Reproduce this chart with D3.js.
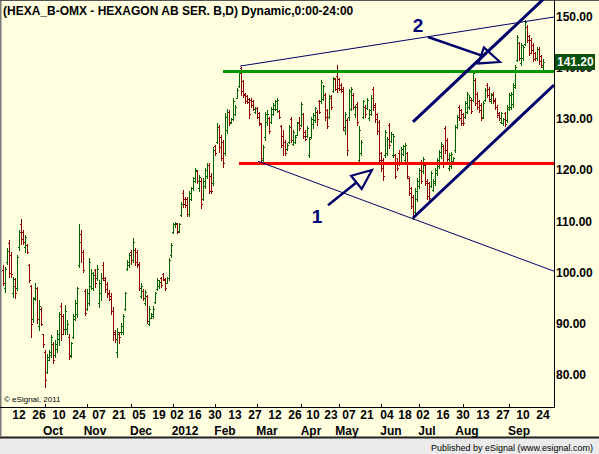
<!DOCTYPE html>
<html>
<head>
<meta charset="utf-8">
<script src="https://cdn.jsdelivr.net/npm/d3@7"></script>
<style>
  html, body { margin: 0; padding: 0; background: #fff; }
  svg { display: block; }
  text { font-family: "Liberation Sans", Arial, sans-serif; }
</style>
</head>
<body>
<svg id="drawing_region"></svg>
<script>
// ---- data ----
const title = "(HEXA_B-OMX - HEXAGON AB SER. B,D) Dynamic,0:00-24:00";
const firstDay = "2011-08-31";
const lastDay = "2012-09-24";
const holidays = ["2011-12-26", "2012-01-06", "2012-04-06", "2012-04-09",
                  "2012-05-01", "2012-05-17", "2012-06-06", "2012-06-22"];

const opens = [
  100.5, 97.0, 102.0, 105.8, 103.5, 96.0, 97.5, 97.0, 105.0, 109.5,
  108.0, 105.0, 105.5, 101.5, 97.5, 91.0, 95.0, 97.0, 89.5, 93.0,
  88.0, 84.5, 80.5, 83.0, 84.0, 86.0, 84.0, 85.0, 87.0, 93.5,
  91.5, 89.0, 89.0, 87.5, 84.0, 87.5, 91.0, 92.0, 101.5, 107.5,
  104.0, 96.5, 93.0, 94.0, 97.5, 97.0, 100.5, 99.0, 94.0, 96.0,
  101.5, 98.5, 97.8, 96.0, 95.5, 92.5, 88.5, 84.5, 88.0, 88.5,
  88.5, 93.0, 100.8, 101.5, 104.0, 102.5, 104.5, 104.0, 101.5, 95.5,
  96.5, 94.0, 95.5, 90.0, 91.2, 91.5, 94.2, 96.8, 97.5, 99.0,
  99.8, 98.5, 98.0, 99.0, 103.5, 108.0, 109.5, 109.5, 108.2, 111.2,
  115.5, 114.5, 114.5, 111.5, 114.5, 116.5, 118.0, 119.8, 116.5, 118.0,
  114.5, 117.0, 119.0, 121.0, 119.0, 117.5, 124.8, 125.5, 128.5, 126.5,
  125.5, 123.5, 128.0, 131.5, 129.3, 130.0, 131.0, 134.2, 136.5, 140.0,
  137.5, 135.0, 134.5, 134.0, 133.8, 133.5, 131.5, 132.3, 131.3, 129.0,
  122.0, 126.5, 129.5, 130.3, 129.5, 131.0, 132.0, 132.0, 131.7, 128.7,
  126.8, 125.5, 124.2, 125.5, 130.0, 125.2, 125.5, 127.0, 129.5, 128.8,
  131.0, 127.5, 126.8, 123.0, 126.5, 129.0, 129.8, 131.5, 133.5, 133.5,
  134.0, 134.8, 131.8, 130.5, 134.5, 135.6, 137.8, 138.5, 137.8, 136.8,
  136.0, 128.0, 129.8, 130.5, 132.0, 134.8, 131.0, 133.0, 122.0, 123.5,
  130.5, 132.5, 132.2, 130.2, 131.0, 136.0, 132.8, 131.0, 129.5, 123.5,
  122.0, 123.0, 123.5, 128.8, 125.8, 123.0, 123.0, 121.5, 123.5, 121.5,
  123.2, 122.0, 123.5, 118.5, 116.5, 114.8, 111.8, 114.5, 117.0, 121.5,
  119.8, 121.0, 118.0, 117.5, 117.0, 116.2, 117.5, 119.5, 120.8, 122.8,
  124.8, 128.2, 126.0, 120.5, 120.8, 121.9, 124.0, 128.5, 132.5, 131.8,
  131.0, 130.5, 131.5, 132.5, 133.8, 133.8, 137.6, 135.0, 133.5, 132.8,
  130.5, 133.8, 136.7, 136.0, 133.5, 135.0, 133.8, 132.5, 131.2, 129.5,
  129.2, 131.2, 129.8, 132.0, 132.5, 133.0, 136.3, 141.5, 145.0, 141.0,
  142.0, 144.8, 148.0, 146.2, 145.5, 144.5, 143.0, 142.0, 143.8, 142.3,
  140.2
];
const highs = [
  101.5, 101.2, 104.8, 106.4, 104.1, 99.2, 98.9, 103.4, 108.3, 110.5,
  108.3, 107.4, 105.7, 101.8, 97.6, 95.3, 97.9, 97.3, 94.6, 93.3,
  88.1, 84.9, 84.2, 84.9, 87.8, 86.5, 86.8, 88.8, 92.4, 94.0,
  92.0, 93.7, 90.7, 88.1, 86.5, 92.0, 94.6, 97.3, 109.6, 108.3,
  104.4, 96.9, 96.9, 102.8, 100.8, 100.2, 100.8, 101.5, 98.6, 99.9,
  102.1, 99.2, 98.2, 96.6, 96.0, 93.3, 88.8, 89.1, 88.5, 90.1,
  92.0, 96.3, 102.5, 103.8, 104.4, 106.7, 104.8, 104.4, 102.1, 97.9,
  96.9, 96.6, 95.6, 93.4, 92.1, 93.4, 96.3, 98.9, 98.6, 99.2,
  99.9, 98.9, 99.2, 102.8, 105.8, 109.7, 110.0, 109.7, 109.7, 113.9,
  116.2, 114.9, 114.9, 115.9, 116.8, 118.8, 120.4, 120.1, 119.1, 118.5,
  118.5, 120.4, 121.4, 121.4, 119.4, 124.6, 125.0, 129.2, 128.9, 126.9,
  126.0, 131.2, 132.1, 131.8, 130.2, 134.1, 132.8, 136.1, 139.3, 140.3,
  137.7, 135.1, 134.8, 134.1, 134.1, 133.8, 132.5, 132.5, 131.5, 129.2,
  125.0, 131.5, 131.8, 130.5, 132.5, 133.1, 133.8, 134.1, 131.8, 128.9,
  127.9, 125.9, 125.3, 128.9, 130.5, 127.9, 126.9, 129.5, 130.5, 133.4,
  131.2, 127.9, 128.6, 126.6, 130.5, 131.2, 132.5, 131.8, 133.8, 137.7,
  136.7, 135.1, 132.1, 134.7, 134.7, 138.3, 138.0, 140.7, 138.0, 137.0,
  136.4, 131.5, 130.2, 136.0, 136.4, 135.1, 132.8, 133.4, 128.6, 125.9,
  133.8, 132.8, 134.1, 132.1, 134.7, 136.4, 133.1, 131.2, 129.9, 123.7,
  122.4, 127.9, 126.6, 129.2, 127.6, 127.2, 123.3, 122.4, 124.0, 124.6,
  125.0, 125.3, 123.7, 118.8, 116.8, 115.2, 116.5, 118.5, 120.4, 122.0,
  122.7, 121.4, 118.4, 117.8, 119.8, 118.4, 120.4, 122.4, 124.0, 125.6,
  125.0, 128.6, 126.3, 123.4, 123.7, 122.7, 128.9, 130.8, 132.8, 132.1,
  131.2, 133.5, 135.4, 134.7, 134.1, 139.3, 138.0, 135.4, 133.8, 133.1,
  133.5, 136.1, 137.0, 136.4, 135.1, 135.4, 134.1, 132.8, 131.5, 131.5,
  130.2, 131.5, 132.8, 135.1, 135.4, 137.0, 140.6, 146.5, 145.2, 144.9,
  144.5, 149.4, 148.4, 146.5, 145.8, 144.9, 143.2, 144.2, 144.2, 142.6,
  141.8
];
const lows = [
  97.6, 96.3, 101.8, 99.2, 99.2, 95.3, 95.0, 96.6, 104.4, 105.7,
  105.7, 104.1, 103.8, 98.2, 87.5, 90.4, 94.6, 90.1, 88.8, 89.8,
  85.5, 77.7, 80.3, 82.9, 83.6, 82.3, 83.6, 84.5, 85.8, 86.8,
  88.1, 88.1, 88.1, 83.2, 83.6, 87.2, 90.7, 91.4, 101.2, 102.1,
  100.2, 91.7, 92.7, 93.7, 96.9, 96.6, 97.3, 98.6, 93.3, 94.6,
  98.6, 96.3, 95.3, 94.6, 92.0, 86.8, 86.5, 83.6, 86.2, 88.1,
  88.1, 92.7, 100.5, 101.2, 101.8, 102.1, 101.5, 101.2, 96.6, 95.0,
  94.6, 93.7, 90.1, 89.8, 91.1, 91.1, 94.0, 96.6, 97.0, 97.3,
  98.6, 96.6, 97.9, 98.6, 103.1, 107.7, 109.0, 107.7, 108.0, 111.0,
  112.9, 112.9, 111.0, 111.0, 114.2, 116.2, 117.8, 117.5, 115.9, 112.6,
  114.2, 116.5, 118.5, 115.5, 115.5, 117.2, 123.0, 125.3, 123.7, 122.0,
  120.7, 123.0, 127.3, 128.9, 129.2, 129.9, 130.8, 134.1, 136.4, 134.8,
  134.4, 133.1, 133.1, 130.2, 132.5, 131.8, 131.2, 130.2, 128.9, 121.7,
  121.4, 126.0, 128.9, 127.3, 129.2, 130.8, 131.8, 131.5, 130.2, 124.6,
  123.0, 123.0, 124.0, 125.3, 125.6, 125.0, 125.3, 126.9, 127.9, 128.6,
  126.3, 125.9, 126.6, 122.7, 126.3, 128.2, 129.5, 128.9, 131.2, 133.1,
  133.8, 129.9, 128.2, 130.2, 132.1, 135.4, 135.7, 135.4, 135.7, 135.4,
  127.9, 127.2, 123.0, 129.9, 131.8, 132.1, 130.5, 128.9, 121.7, 123.0,
  130.2, 130.5, 132.1, 129.9, 130.8, 131.8, 129.5, 127.2, 121.4, 119.8,
  118.1, 122.7, 123.0, 124.3, 125.6, 122.7, 118.5, 120.1, 121.1, 121.4,
  123.0, 121.4, 118.5, 115.2, 112.6, 110.6, 111.6, 114.0, 116.5, 117.5,
  119.4, 117.1, 114.5, 114.2, 116.8, 115.9, 117.1, 119.1, 120.4, 122.4,
  120.7, 123.4, 121.7, 120.1, 120.4, 121.7, 123.7, 128.2, 129.9, 128.9,
  128.9, 130.2, 131.2, 132.1, 131.2, 133.5, 132.8, 132.1, 131.5, 129.9,
  130.2, 133.5, 134.4, 133.5, 133.1, 133.1, 132.1, 130.5, 129.9, 129.2,
  128.9, 128.6, 129.5, 131.8, 132.1, 132.5, 136.1, 141.3, 141.6, 140.6,
  141.6, 144.5, 145.2, 142.6, 142.9, 141.3, 141.6, 141.6, 140.9, 140.3,
  139.6
];
const closes = [
  98.0, 100.8, 104.2, 100.0, 99.8, 98.8, 96.0, 103.0, 108.0, 106.5,
  106.0, 107.0, 104.0, 98.5, 90.0, 94.8, 97.0, 91.0, 93.5, 90.0,
  86.0, 79.0, 83.5, 84.5, 87.5, 83.0, 86.0, 88.0, 92.0, 88.0,
  89.0, 92.5, 90.0, 83.8, 86.2, 91.5, 94.0, 97.0, 106.0, 104.0,
  100.5, 92.2, 96.0, 102.0, 100.0, 99.5, 98.0, 100.8, 98.0, 99.0,
  99.0, 96.8, 95.8, 94.8, 92.5, 88.0, 87.0, 88.5, 87.5, 89.5,
  91.5, 96.0, 102.0, 103.5, 102.5, 106.0, 102.0, 101.8, 97.0, 97.5,
  95.0, 96.2, 90.5, 93.0, 92.0, 93.0, 96.0, 98.5, 98.2, 97.6,
  98.8, 97.0, 99.0, 102.5, 105.5, 109.5, 109.8, 108.0, 109.5, 113.5,
  113.5, 113.2, 111.5, 115.5, 116.5, 118.5, 120.0, 118.0, 118.8, 113.5,
  118.0, 120.0, 121.0, 116.0, 116.0, 124.0, 123.5, 128.5, 124.5, 122.5,
  121.5, 130.5, 131.5, 129.5, 130.0, 133.5, 132.5, 135.8, 139.0, 135.5,
  134.8, 133.5, 133.3, 131.0, 132.8, 132.0, 132.2, 130.5, 129.2, 122.5,
  124.5, 131.0, 131.0, 127.8, 132.0, 132.8, 133.5, 133.8, 130.5, 125.0,
  125.5, 123.5, 125.0, 128.5, 126.0, 127.5, 126.5, 129.2, 128.2, 133.0,
  126.8, 126.2, 128.2, 126.2, 130.0, 130.8, 132.2, 130.0, 131.5, 137.2,
  136.5, 130.5, 128.6, 134.2, 132.5, 138.0, 136.0, 136.2, 136.0, 135.6,
  128.5, 131.0, 124.0, 135.5, 136.0, 132.5, 132.5, 129.5, 128.0, 125.5,
  133.5, 131.0, 133.8, 131.8, 134.2, 132.5, 130.0, 127.8, 122.0, 120.5,
  119.0, 127.5, 126.2, 125.0, 127.2, 126.8, 119.0, 120.5, 121.5, 124.2,
  124.8, 125.0, 119.0, 115.5, 113.0, 111.2, 116.0, 118.0, 120.0, 118.0,
  122.3, 117.5, 115.0, 114.6, 119.5, 118.0, 120.0, 122.0, 123.6, 125.2,
  121.2, 124.0, 122.2, 123.0, 123.3, 122.4, 128.5, 130.5, 130.3, 129.3,
  129.2, 133.2, 135.0, 134.3, 131.6, 139.0, 133.2, 132.5, 131.8, 130.3,
  133.2, 135.8, 134.8, 134.0, 134.8, 133.5, 132.4, 130.8, 130.2, 131.2,
  130.0, 129.0, 132.5, 134.8, 135.0, 136.8, 140.3, 146.0, 142.0, 144.5,
  144.2, 149.0, 145.6, 143.0, 143.5, 141.8, 142.0, 143.8, 141.3, 140.6,
  141.2
];

const priceTicks = [80, 90, 100, 110, 120, 130, 140, 150];
const lastPrice = 141.20;
const dateTicks = ["2011-09-12", "2011-09-26", "2011-10-10", "2011-10-24", "2011-11-07",
  "2011-11-21", "2011-12-05", "2011-12-19", "2012-01-02", "2012-01-16", "2012-01-30",
  "2012-02-13", "2012-02-27", "2012-03-12", "2012-03-26", "2012-04-10", "2012-04-23",
  "2012-05-07", "2012-05-21", "2012-06-04", "2012-06-18", "2012-07-02", "2012-07-16",
  "2012-07-30", "2012-08-13", "2012-08-27", "2012-09-10", "2012-09-24"];
const monthNames = ["Oct", "Nov", "Dec", "2012", "Feb", "Mar", "Apr", "May", "Jun", "Jul", "Aug", "Sep"];
const monthKeys = ["2011-10", "2011-11", "2011-12", "2012-01", "2012-02", "2012-03",
  "2012-04", "2012-05", "2012-06", "2012-07", "2012-08", "2012-09"];
// day each month name is centred on in the picture
const monthLabelDays = ["2011-10-05", "2011-11-03", "2011-12-06", "2012-01-09", "2012-02-06",
  "2012-03-06", "2012-04-05", "2012-05-04", "2012-06-07", "2012-07-04", "2012-08-01", "2012-09-06"];

// drawn studies, in (bar index, price)
const levels = [
  { from: 110, price: 139.45, color: "#009a00" },
  { from: 118, price: 121.45, color: "#ff0000" }
];
const trendLines = [
  { x1: 118.5, y1: 140.4, x2: 275.5, y2: 150.0, w: 1 },
  { x1: 127.5, y1: 121.8, x2: 275.5, y2: 100.3, w: 1 },
  { x1: 205, y1: 110.7, x2: 275.5, y2: 136.7, w: 3 },
  { x1: 205, y1: 129.5, x2: 270.5, y2: 153.6, w: 3 }
];
const arrows = [
  { x1: 162.5, y1: 113.2, x2: 184.5, y2: 120.1, label: "1", lx: 157, ly: 110.9 },
  { x1: 212.5, y1: 146.1, x2: 248.5, y2: 141.2, label: "2", lx: 207.5, ly: 148.4 }
];

// ---- chart ----
const W = 599, H = 454;
const plotRight = 554, plotBottom = 407;
const NAVY = "#00006b";

const fmt = d3.utcFormat("%Y-%m-%d");
const parse = d3.utcParse("%Y-%m-%d");
const days = d3.utcDay.range(parse(firstDay), d3.utcDay.offset(parse(lastDay), 1))
  .filter(d => d.getUTCDay() % 6 !== 0 && !holidays.includes(fmt(d)))
  .map(fmt);

const bars = days.map((d, i) => ({
  i: i, date: d, o: opens[i], h: highs[i], l: lows[i], c: closes[i]
})).filter(d => d.o !== undefined);

const svg = d3.select("#drawing_region")
  .attr("width", W)
  .attr("height", H);

const x = d3.scaleLinear().domain([0, 275.5]).range([3, plotRight]);
const y = d3.scaleLinear().domain([80, 150]).range([375, 17]);

// backgrounds
svg.append("rect").attr("width", W).attr("height", 437).attr("fill", "#ffffe0");
svg.append("rect").attr("y", 437).attr("width", W).attr("height", H - 437).attr("fill", "#ebebeb");
svg.append("line").attr("x1", 0).attr("x2", W).attr("y1", 437.5).attr("y2", 437.5)
  .attr("stroke", "#222").attr("stroke-width", 2);
svg.append("line").attr("x1", 0.5).attr("x2", 0.5).attr("y1", 0).attr("y2", 437)
  .attr("stroke", "#7a7a7a").attr("stroke-width", 2);
svg.append("line").attr("x1", 0).attr("x2", W).attr("y1", 0.5).attr("y2", 0.5)
  .attr("stroke", "#555");

svg.append("clipPath").attr("id", "plotclip")
  .append("rect").attr("x", 0).attr("y", 0).attr("width", plotRight).attr("height", plotBottom);

const chart = svg.append("g").attr("clip-path", "url(#plotclip)");

// OHLC bars
const barG = chart.append("g").attr("shape-rendering", "crispEdges");
const bar = barG.selectAll("g").data(bars).join("g")
  .attr("stroke", d => d.c >= d.o ? "#006400" : "#8b0000");
bar.append("line")
  .attr("x1", d => Math.round(x(d.i)) + 0.5)
  .attr("x2", d => Math.round(x(d.i)) + 0.5)
  .attr("y1", d => Math.round(y(d.h)))
  .attr("y2", d => Math.round(y(d.l)) + 1);
bar.append("line")
  .attr("x1", d => Math.round(x(d.i)) - 1)
  .attr("x2", d => Math.round(x(d.i)))
  .attr("y1", d => Math.round(y(d.o)) + 0.5)
  .attr("y2", d => Math.round(y(d.o)) + 0.5);
bar.append("line")
  .attr("x1", d => Math.round(x(d.i)) + 1)
  .attr("x2", d => Math.round(x(d.i)) + 2)
  .attr("y1", d => Math.round(y(d.c)) + 0.5)
  .attr("y2", d => Math.round(y(d.c)) + 0.5);

// horizontal levels
chart.selectAll(".level").data(levels).join("line")
  .attr("class", "level")
  .attr("x1", d => x(d.from)).attr("x2", plotRight)
  .attr("y1", d => Math.round(y(d.price)) + 0.5).attr("y2", d => Math.round(y(d.price)) + 0.5)
  .attr("stroke", d => d.color).attr("stroke-width", 3);

// trend lines and channel
chart.selectAll(".trend").data(trendLines).join("line")
  .attr("class", "trend")
  .attr("x1", d => x(d.x1)).attr("y1", d => y(d.y1))
  .attr("x2", d => x(d.x2)).attr("y2", d => y(d.y2))
  .attr("stroke", NAVY).attr("stroke-width", d => d.w);

// arrows with hollow heads
arrows.forEach(a => {
  const sx = x(a.x1), sy = y(a.y1), tx = x(a.x2), ty = y(a.y2);
  const len = Math.hypot(tx - sx, ty - sy);
  const ux = (tx - sx) / len, uy = (ty - sy) / len;
  const hl = 20, hw = 8.5;
  const bx = tx - ux * hl, by = ty - uy * hl;
  const p1 = [bx - uy * hw, by + ux * hw], p2 = [bx + uy * hw, by - ux * hw];
  chart.append("line")
    .attr("x1", sx).attr("y1", sy).attr("x2", bx).attr("y2", by)
    .attr("stroke", NAVY).attr("stroke-width", 2.5);
  chart.append("path")
    .attr("d", `M${tx},${ty}L${p1[0]},${p1[1]}L${p2[0]},${p2[1]}Z`)
    .attr("fill", "none").attr("stroke", NAVY).attr("stroke-width", 2.2)
    .attr("stroke-linejoin", "miter");
  chart.append("text")
    .attr("x", x(a.lx)).attr("y", y(a.ly))
    .attr("text-anchor", "middle").attr("dominant-baseline", "central")
    .attr("font-size", 19).attr("font-weight", "bold").attr("fill", "#00007a")
    .text(a.label);
});

// title and copyright
svg.append("text").attr("x", 3).attr("y", 15)
  .attr("font-size", 12).attr("font-weight", "bold").attr("fill", "#000")
  .text(title);
svg.append("text").attr("x", 4).attr("y", 402)
  .attr("font-size", 8).attr("fill", "#000")
  .text("\u00a9 eSignal, 2011");

// right price axis
svg.append("line").attr("x1", plotRight + 0.5).attr("x2", plotRight + 0.5)
  .attr("y1", 0).attr("y2", plotBottom).attr("stroke", "#000");
svg.append("g").selectAll("text").data(priceTicks).join("text")
  .attr("x", plotRight + 2).attr("y", d => y(d))
  .attr("dominant-baseline", "central")
  .attr("font-size", 12).attr("font-weight", "bold").attr("fill", "#000")
  .text(d => d3.format(".2f")(d));

const tag = svg.append("g").attr("transform", `translate(${plotRight + 1},${Math.round(y(lastPrice)) - 8})`);
tag.append("rect").attr("width", 40).attr("height", 16).attr("fill", "#0b500b");
tag.append("text").attr("x", 2).attr("y", 8).attr("dominant-baseline", "central")
  .attr("font-size", 12).attr("font-weight", "bold").attr("fill", "#fff")
  .text(d3.format(".2f")(lastPrice));

// bottom date axis
svg.append("line").attr("x1", 0).attr("x2", plotRight + 1)
  .attr("y1", plotBottom + 0.5).attr("y2", plotBottom + 0.5).attr("stroke", "#000");

const tickIdx = dateTicks.map(d => days.indexOf(d)).filter(i => i >= 0);
svg.append("g").selectAll("text").data(tickIdx).join("text")
  .attr("x", i => x(i)).attr("y", 419)
  .attr("text-anchor", "middle")
  .attr("font-size", 12).attr("font-weight", "bold").attr("fill", "#000")
  .text(i => days[i].slice(8, 10));

const monthIdx = monthKeys.map(k => days.findIndex(d => d.startsWith(k)));
const axisG = svg.append("g");
axisG.selectAll("line").data(monthIdx).join("line")
  .attr("x1", i => Math.round(x(i - 2)) + 0.5).attr("x2", i => Math.round(x(i - 2)) + 0.5)
  .attr("y1", plotBottom - 3).attr("y2", plotBottom)
  .attr("stroke", "#000");
const monthLabelIdx = monthLabelDays.map(d => days.indexOf(d));
axisG.selectAll("text").data(monthLabelIdx).join("text")
  .attr("x", i => x(i)).attr("y", 435)
  .attr("text-anchor", "middle")
  .attr("font-size", 12).attr("font-weight", "bold").attr("fill", "#000")
  .text((i, k) => monthNames[k]);

svg.append("text").attr("x", 593).attr("y", 451)
  .attr("text-anchor", "end").attr("font-size", 9).attr("fill", "#000")
  .text("Published by eSignal (www.esignal.com)");
</script>
</body>
</html>
